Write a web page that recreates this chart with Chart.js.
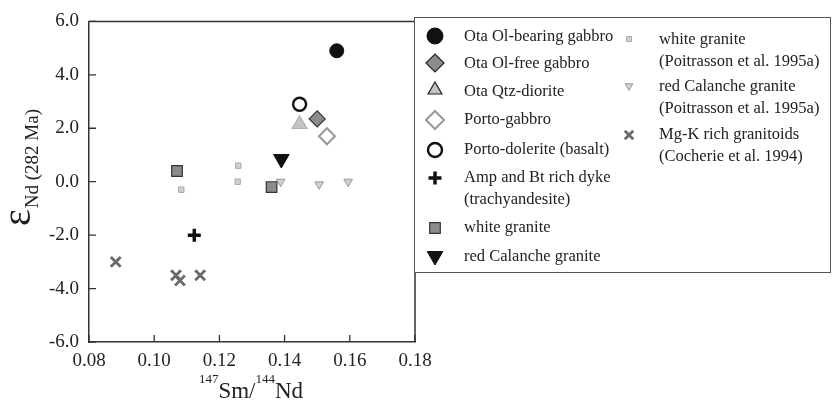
<!DOCTYPE html>
<html>
<head>
<meta charset="utf-8">
<script src="https://cdn.jsdelivr.net/npm/chart.js@4.4.1/dist/chart.umd.min.js"></script>
<style>
html,body{margin:0;padding:0;background:#fff;}
#wrap{width:839px;height:406px;position:relative;}
</style>
</head>
<body>
<div id="wrap"><canvas id="c" width="839" height="406"></canvas></div>
<script>
// ---- data (147Sm/144Nd, eNd(282 Ma)) ----
const otaOlBearingX = [0.156];  const otaOlBearingY = [4.9];
const otaOlFreeX    = [0.150];  const otaOlFreeY    = [2.35];
const otaQtzX       = [0.1446]; const otaQtzY       = [2.15];
const portoGabbroX  = [0.153];  const portoGabbroY  = [1.7];
const portoDolX     = [0.1446]; const portoDolY     = [2.9];
const ampDykeX      = [0.1123]; const ampDykeY      = [-2.0];
const whiteGrX      = [0.107, 0.136]; const whiteGrY = [0.4, -0.2];
const redCalX       = [0.139];  const redCalY       = [0.85];
const whiteGrPoitX  = [0.1083, 0.1258, 0.1256]; const whiteGrPoitY = [-0.3, 0.6, 0.0];
const redCalPoitX   = [0.1388, 0.1506, 0.1595]; const redCalPoitY  = [0.0, -0.1, 0.0];
const mgKX          = [0.0882, 0.1067, 0.1079, 0.1141]; const mgKY = [-3.0, -3.5, -3.7, -3.5];

const xTicks = [0.08, 0.10, 0.12, 0.14, 0.16, 0.18];
const yTicks = [-6.0, -4.0, -2.0, 0.0, 2.0, 4.0, 6.0];

const SERIF = '"Liberation Serif", "Times New Roman", serif';

function pts(xs, ys){ return xs.map((x,i)=>({x:x, y:ys[i]})); }

// lr = legend radius, lbc = legend border colour
const series = [
  {label:'Ota Ol-bearing gabbro', data:pts(otaOlBearingX,otaOlBearingY), pointStyle:'circle', radius:7, lr:8, bg:'#111', bc:'#111', lbc:'#111', bw:1, rot:0},
  {label:'Ota Ol-free gabbro', data:pts(otaOlFreeX,otaOlFreeY), pointStyle:'rectRot', radius:8, lr:9, bg:'#8c8c8c', bc:'#333', lbc:'#222', bw:1.2, rot:0},
  {label:'Ota Qtz-diorite', data:pts(otaQtzX,otaQtzY), pointStyle:'triangle', radius:8.5, lr:8, bg:'#c4c4c4', bc:'#b0b0b0', lbc:'#222', bw:1.2, rot:0},
  {label:'Porto-gabbro', data:pts(portoGabbroX,portoGabbroY), pointStyle:'rectRot', radius:8, lr:9, bg:'#ffffff', bc:'#999', lbc:'#999', bw:2, rot:0},
  {label:'Porto-dolerite (basalt)', data:pts(portoDolX,portoDolY), pointStyle:'circle', radius:6.5, lr:7, bg:'#ffffff', bc:'#111', lbc:'#111', bw:2.4, rot:0},
  {label:'Amp and Bt rich dyke', data:pts(ampDykeX,ampDykeY), pointStyle:'cross', radius:6.5, lr:6.5, bg:'#111', bc:'#111', lbc:'#111', bw:3.5, rot:0},
  {label:'white granite', data:pts(whiteGrX,whiteGrY), pointStyle:'rect', radius:7.5, lr:7.5, bg:'#8c8c8c', bc:'#333', lbc:'#333', bw:1.2, rot:0},
  {label:'red Calanche granite', data:pts(redCalX,redCalY), pointStyle:'triangle', radius:9, lr:9, bg:'#111', bc:'#111', lbc:'#111', bw:1, rot:180},
  {label:'white granite (Poitrasson et al. 1995a)', data:pts(whiteGrPoitX,whiteGrPoitY), pointStyle:'rect', radius:3.8, lr:3.5, bg:'#d0d0d0', bc:'#a8a8a8', lbc:'#a8a8a8', bw:1, rot:0},
  {label:'red Calanche granite (Poitrasson et al. 1995a)', data:pts(redCalPoitX,redCalPoitY), pointStyle:'triangle', radius:5, lr:4.5, bg:'#d0d0d0', bc:'#999', lbc:'#999', bw:1, rot:180},
  {label:'Mg-K rich granitoids (Cocherie et al. 1994)', data:pts(mgKX,mgKY), pointStyle:'crossRot', radius:7, lr:6, bg:'#6a6a6a', bc:'#6a6a6a', lbc:'#6a6a6a', bw:2.8, rot:0}
];

// legend layout: [seriesIndex, markerX, markerY, textX, lines[], lineYs[]]
const legendLeft = [
  [0, 435, 36, 464, ['Ota Ol-bearing gabbro'], [37]],
  [1, 435, 63, 464, ['Ota Ol-free gabbro'], [64]],
  [2, 435, 90, 464, ['Ota Qtz-diorite'], [92]],
  [3, 435, 120, 464, ['Porto-gabbro'], [120]],
  [4, 435, 150, 464, ['Porto-dolerite (basalt)'], [150]],
  [5, 435, 178, 464, ['Amp and Bt rich dyke','(trachyandesite)'], [178, 200]],
  [6, 435, 228, 464, ['white granite'], [228]],
  [7, 435, 256, 464, ['red Calanche granite'], [257]]
];
const legendRight = [
  [8, 629, 39, 659, ['white granite','(Poitrasson et al. 1995a)'], [40, 62]],
  [9, 629, 86, 659, ['red Calanche granite','(Poitrasson et al. 1995a)'], [87, 109]],
  [10, 629, 135, 659, ['Mg-K rich granitoids','(Cocherie et al. 1994)'], [135, 157]]
];

const decorPlugin = {
  id:'decor',
  afterDraw(chart){
    const ctx = chart.ctx, a = chart.chartArea;
    const xs = chart.scales.x, ys = chart.scales.y;
    ctx.save();
    // frame
    ctx.strokeStyle = '#333'; ctx.lineWidth = 1.5;
    ctx.beginPath();
    ctx.moveTo(a.left, a.top); ctx.lineTo(a.right, a.top); ctx.lineTo(a.right, a.bottom);
    ctx.stroke();
    // inward ticks
    ctx.lineWidth = 1.3;
    ctx.beginPath();
    xTicks.forEach(v=>{ const px = xs.getPixelForValue(v); ctx.moveTo(px, a.bottom); ctx.lineTo(px, a.bottom-7); });
    yTicks.forEach(v=>{ const py = ys.getPixelForValue(v); ctx.moveTo(a.left, py); ctx.lineTo(a.left+7, py); });
    ctx.stroke();

    // y-axis title: epsilon with subscript
    ctx.fillStyle = '#222';
    ctx.save();
    ctx.translate(30, 226);
    ctx.rotate(-Math.PI/2);
    ctx.textAlign = 'left'; ctx.textBaseline = 'alphabetic';
    ctx.font = '40px ' + SERIF;
    ctx.fillText('\u03B5', 0, 0);
    const ew = ctx.measureText('\u03B5').width;
    ctx.font = '19px ' + SERIF;
    ctx.fillText('Nd (282 Ma)', ew + 1, 8);
    ctx.restore();

    // x-axis title: 147Sm/144Nd
    const parts = [['147', 13, -15], ['Sm/', 23, 0], ['144', 13, -15], ['Nd', 23, 0]];
    let tot = 0;
    parts.forEach(p=>{ ctx.font = p[1]+'px '+SERIF; tot += ctx.measureText(p[0]).width; });
    let cx = 251 - tot/2;
    ctx.textAlign = 'left'; ctx.textBaseline = 'alphabetic';
    parts.forEach(p=>{ ctx.font = p[1]+'px '+SERIF; ctx.fillText(p[0], cx, 398 + p[2]); cx += ctx.measureText(p[0]).width; });

    // legend box
    ctx.fillStyle = '#fff';
    ctx.fillRect(414, 17, 416, 255);
    ctx.strokeStyle = '#555'; ctx.lineWidth = 1;
    ctx.strokeRect(414.5, 17.5, 416, 255);

    const drawEntry = (e)=>{
      const s = series[e[0]];
      ctx.save();
      ctx.fillStyle = s.bg; ctx.strokeStyle = s.lbc; ctx.lineWidth = s.bw;
      Chart.helpers.drawPoint(ctx, {pointStyle:s.pointStyle, radius:s.lr, rotation:s.rot, borderWidth:s.bw}, e[1], e[2]);
      ctx.restore();
      ctx.fillStyle = '#222';
      ctx.font = '16.5px ' + SERIF;
      ctx.textAlign = 'left'; ctx.textBaseline = 'middle';
      e[4].forEach((t,i)=> ctx.fillText(t, e[3], e[5][i]));
    };
    legendLeft.forEach(drawEntry);
    legendRight.forEach(drawEntry);
    ctx.restore();
  }
};

new Chart(document.getElementById('c'), {
  type:'scatter',
  data:{ datasets: series.map(s=>({
    label:s.label, data:s.data, pointStyle:s.pointStyle, pointRadius:s.radius, pointHoverRadius:s.radius,
    backgroundColor:s.bg, borderColor:s.bc, borderWidth:s.bw, pointRotation:s.rot, clip:false
  }))},
  options:{
    responsive:false, animation:false, devicePixelRatio:1,
    layout:{ padding:{ top:18, right:424, left:0, bottom:0 } },
    plugins:{ legend:{display:false}, tooltip:{enabled:false}, title:{display:false} },
    scales:{
      x:{
        type:'linear', min:0.08, max:0.18,
        afterFit(scale){ scale.height = 64; },
        afterBuildTicks(scale){ scale.ticks = xTicks.map(v=>({value:v})); },
        ticks:{ callback:v=>v.toFixed(2), font:{family:SERIF, size:19}, color:'#222', padding:8, maxRotation:0 },
        grid:{ display:true, drawOnChartArea:false, drawTicks:false },
        border:{ display:true, color:'#333', width:1.5 }
      },
      y:{
        type:'linear', min:-6, max:6,
        afterFit(scale){ scale.width = 89; },
        afterBuildTicks(scale){ scale.ticks = yTicks.map(v=>({value:v})); },
        ticks:{ callback:v=>v.toFixed(1), font:{family:SERIF, size:19}, color:'#222', padding:10 },
        grid:{ display:true, drawOnChartArea:false, drawTicks:false },
        border:{ display:true, color:'#333', width:1.5 }
      }
    }
  },
  plugins:[decorPlugin]
});
</script>
</body>
</html>
